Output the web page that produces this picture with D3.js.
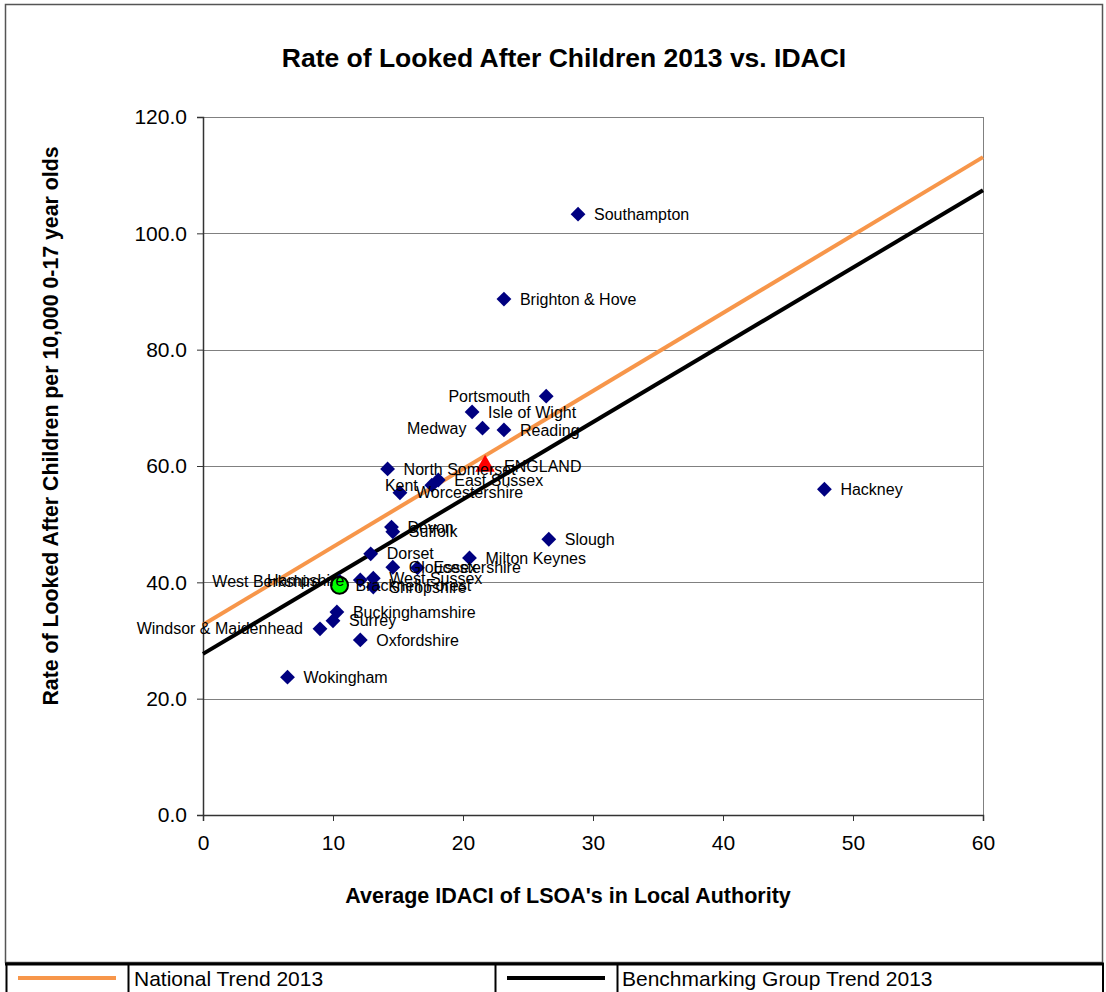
<!DOCTYPE html>
<html>
<head>
<meta charset="utf-8">
<script src="https://cdn.jsdelivr.net/npm/d3@7"></script>
<style>
  body { margin: 0; background: #fff; }
  text { font-family: "Liberation Sans", Arial, sans-serif; fill: #000; }
</style>
</head>
<body>
<div id="chart"></div>
<script>
// local authorities in the benchmarking group
var names = ["Southampton", "Brighton & Hove", "Portsmouth", "Isle of Wight", "Medway", "Reading",
  "North Somerset", "Kent", "East Sussex", "Worcestershire", "Hackney", "Devon", "Suffolk", "Slough",
  "Dorset", "Milton Keynes", "Gloucestershire", "Essex", "West Sussex", "Hampshire", "West Berkshire",
  "Shropshire", "Buckinghamshire", "Surrey", "Windsor & Maidenhead", "Oxfordshire", "Wokingham"];
var idaci = [28.85, 23.15, 26.4, 20.7, 21.5, 23.15,
  14.2, 17.6, 18.1, 15.15, 47.8, 14.5, 14.6, 26.6,
  12.9, 20.5, 14.6, 16.5, 13.1, 12.1, 10.5,
  13.1, 10.3, 10.0, 9.0, 12.1, 6.5];
var lacRate = [103.3, 88.7, 72.0, 69.3, 66.5, 66.2,
  59.5, 56.7, 57.6, 55.4, 56.0, 49.5, 48.7, 47.4,
  44.9, 44.2, 42.6, 42.5, 40.7, 40.4, 40.2,
  39.2, 34.9, 33.4, 32.0, 30.1, 23.7];

// highlighted points
var englandPoint = { name: "ENGLAND", x: 21.7, y: 60.0 };
var localPoint = { name: "Bracknell Forest", x: 10.5, y: 39.5 };

// trend lines (end points)
var nationalTrend = [[0, 32.7], [60, 113.1]];
var groupTrend = [[0, 27.7], [60, 107.4]];

var xTicks = [0, 10, 20, 30, 40, 50, 60];
var yTicks = [0, 20, 40, 60, 80, 100, 120];

// labels that were pushed to the left of their marker
var leftLabels = { "Portsmouth": -16, "Medway": -16, "Windsor & Maidenhead": -17,
  "Hampshire": -16, "West Berkshire": -19, "Kent": -14 };

var W = 1106, H = 992;
var margin = {top: 117, right: 123, bottom: 177, left: 203},
    width = W - margin.left - margin.right,
    height = H - margin.top - margin.bottom;

var root = d3.select("#chart")
  .append("svg")
    .attr("width", W)
    .attr("height", H);

// outer chart frame
root.append("rect")
  .attr("x", 5.5).attr("y", 4.5)
  .attr("width", 1097).attr("height", 958)
  .attr("fill", "none")
  .attr("stroke", "#555")
  .attr("stroke-width", 1.5);

root.append("text")
  .attr("x", 564).attr("y", 67)
  .attr("text-anchor", "middle")
  .style("font-size", "26.5px")
  .style("font-weight", "bold")
  .text("Rate of Looked After Children 2013 vs. IDACI");

var svg = root.append("g")
  .attr("transform", "translate(" + margin.left + "," + margin.top + ")");

var x = d3.scaleLinear().domain([0, 60]).range([0, width]);
var y = d3.scaleLinear().domain([0, 120]).range([height, 0]);

// gridlines
svg.selectAll(".grid")
  .data(yTicks.slice(1))
  .enter().append("line")
    .attr("x1", 0).attr("x2", width)
    .attr("y1", function(d) { return Math.round(y(d)) + 0.5; })
    .attr("y2", function(d) { return Math.round(y(d)) + 0.5; })
    .attr("stroke", "#808080")
    .attr("stroke-width", 1);

// right edge of plot area
svg.append("line")
  .attr("x1", width + 0.5).attr("x2", width + 0.5)
  .attr("y1", 0).attr("y2", height)
  .attr("stroke", "#808080");

// axes
var xAxis = svg.append("g")
  .attr("transform", "translate(0," + height + ")")
  .call(d3.axisBottom(x).tickValues(xTicks).tickSize(6).tickPadding(14).tickFormat(d3.format("d")));
var yAxis = svg.append("g")
  .call(d3.axisLeft(y).tickValues(yTicks).tickSize(6).tickPadding(10).tickFormat(d3.format(".1f")));
[xAxis, yAxis].forEach(function(a) {
  a.select(".domain").attr("stroke", "#333").attr("stroke-width", 1.5);
  a.selectAll(".tick line").attr("stroke", "#333");
  a.selectAll(".tick text")
    .style("font-size", "21px")
    .style("font-family", "'Liberation Sans', Arial, sans-serif")
    .attr("fill", "#000");
});

svg.append("text")
  .attr("x", 365).attr("y", height + 88)
  .attr("text-anchor", "middle")
  .style("font-size", "21.5px")
  .style("font-weight", "bold")
  .text("Average IDACI of LSOA's in Local Authority");

svg.append("text")
  .attr("transform", "rotate(-90)")
  .attr("x", -309)
  .attr("y", -145)
  .attr("text-anchor", "middle")
  .style("font-size", "21.3px")
  .style("font-weight", "bold")
  .text("Rate of Looked After Children per 10,000 0-17 year olds");

// trend lines
var line = d3.line()
  .x(function(d) { return x(d[0]); })
  .y(function(d) { return y(d[1]); });

svg.append("path")
  .datum(nationalTrend)
  .attr("fill", "none")
  .attr("stroke", "#F7964A")
  .attr("stroke-width", 4)
  .attr("d", line);

svg.append("path")
  .datum(groupTrend)
  .attr("fill", "none")
  .attr("stroke", "#000")
  .attr("stroke-width", 4)
  .attr("d", line);

// benchmarking group points
var pts = names.map(function(n, i) { return { name: n, x: idaci[i], y: lacRate[i] }; });

svg.selectAll(".pt")
  .data(pts)
  .enter().append("path")
    .attr("transform", function(d) { return "translate(" + x(d.x) + "," + y(d.y) + ") rotate(45)"; })
    .attr("d", d3.symbol().type(d3.symbolSquare).size(110))
    .attr("fill", "#000080");

svg.append("path")
  .attr("transform", "translate(" + x(englandPoint.x) + "," + y(englandPoint.y) + ")")
  .attr("d", d3.symbol().type(d3.symbolTriangle).size(165))
  .attr("fill", "#FF0000");

svg.append("circle")
  .attr("cx", x(localPoint.x))
  .attr("cy", y(localPoint.y))
  .attr("r", 8.5)
  .attr("fill", "#00FF00")
  .attr("stroke", "#000")
  .attr("stroke-width", 2);

// data labels
var allLabels = pts.concat([englandPoint, localPoint]);
svg.selectAll(".lbl")
  .data(allLabels)
  .enter().append("text")
    .attr("x", function(d) {
      var off = leftLabels[d.name];
      if (off !== undefined) return x(d.x) + off;
      return x(d.x) + (d.name === "ENGLAND" ? 19 : 16);
    })
    .attr("y", function(d) { return y(d.y); })
    .attr("dy", "0.35em")
    .attr("text-anchor", function(d) { return leftLabels[d.name] !== undefined ? "end" : "start"; })
    .style("font-size", "16px")
    .text(function(d) { return d.name; });

// legend table at the bottom
var leg = root.append("g");
leg.append("line")
  .attr("x1", 5).attr("x2", 1104).attr("y1", 964).attr("y2", 964)
  .attr("stroke", "#000").attr("stroke-width", 3);
[6.5, 128.5, 495.5, 617.5, 1103].forEach(function(px) {
  leg.append("line")
    .attr("x1", px).attr("x2", px).attr("y1", 963).attr("y2", 992)
    .attr("stroke", "#000").attr("stroke-width", 2);
});
var legendItems = [
  { label: "National Trend 2013", color: "#F7964A", x0: 18, tx: 134 },
  { label: "Benchmarking Group Trend 2013", color: "#000", x0: 507, tx: 622 }
];
legendItems.forEach(function(d) {
  leg.append("line")
    .attr("x1", d.x0).attr("x2", d.x0 + 98)
    .attr("y1", 978).attr("y2", 978)
    .attr("stroke", d.color).attr("stroke-width", 4);
  leg.append("text")
    .attr("x", d.tx).attr("y", 986)
    .style("font-size", "21px")
    .text(d.label);
});
</script>
</body>
</html>
